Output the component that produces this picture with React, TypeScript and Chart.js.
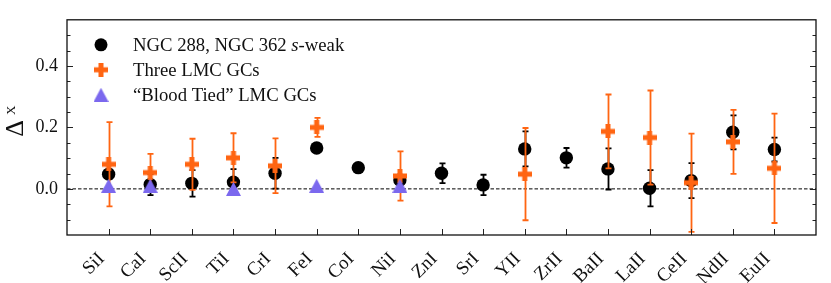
import React, { useEffect, useRef } from 'react';
import { Chart, registerables } from 'chart.js';

Chart.register(...registerables);

// ---------- data ----------
const categories = ['SiI', 'CaI', 'ScII', 'TiI', 'CrI', 'FeI', 'CoI', 'NiI', 'ZnI', 'SrI', 'YII', 'ZrII', 'BaII', 'LaII', 'CeII', 'NdII', 'EuII'];

const weakVals = [0.048, 0.014, 0.018, 0.022, 0.051, 0.133, 0.069, 0.029, 0.051, 0.013, 0.130, 0.101, 0.065, 0.002, 0.027, 0.184, 0.128];
const weakErr = [0.015, 0.034, 0.043, 0.042, 0.050, 0.008, 0.012, 0.015, 0.032, 0.033, 0.057, 0.032, 0.067, 0.059, 0.057, 0.055, 0.039];

const lmcVals = [0.080, 0.053, 0.080, 0.101, 0.075, 0.200, null, 0.042, null, null, 0.048, null, 0.187, 0.167, 0.020, 0.153, 0.067];
const lmcErr = [0.137, 0.061, 0.083, 0.080, 0.089, 0.031, null, 0.080, null, null, 0.150, null, 0.120, 0.153, 0.160, 0.104, 0.178];

const bloodCats = ['SiI', 'CaI', 'TiI', 'FeI', 'NiI'];
const bloodVals = [0.01, 0.01, 0.0, 0.01, 0.01];

const yMajorTicks = [0.0, 0.2, 0.4];
const yMin = -0.15;
const yMax = 0.55;
const yStep = 0.05;

const legendLabels = ['NGC 288, NGC 362 ', '-weak', 'Three LMC GCs', '\u201CBlood Tied\u201D LMC GCs'];

const ORANGE = '#ff6512';
const PURPLE = '#7b68ee';
const FONT = '"Liberation Serif", "Times New Roman", serif';

// ---------- marker images ----------
function makePlus(size: number, arm: number, color: string) {
  const c = document.createElement('canvas');
  c.width = size; c.height = size;
  const g = c.getContext('2d')!;
  g.fillStyle = color;
  const o = (size - arm) / 2;
  g.fillRect(o, 0, arm, size);
  g.fillRect(0, o, size, arm);
  return c;
}
function makeTriangle(w: number, h: number, color: string) {
  const c = document.createElement('canvas');
  c.width = w; c.height = h;
  const g = c.getContext('2d')!;
  g.fillStyle = color;
  g.beginPath();
  g.moveTo(w / 2, 0);
  g.lineTo(w, h);
  g.lineTo(0, h);
  g.closePath();
  g.fill();
  return c;
}

export default function App() {
  const ref = useRef<HTMLCanvasElement | null>(null);

  useEffect(() => {
    if (!ref.current) return;
    const plusImg = makePlus(14, 5, ORANGE);
    const triImg = makeTriangle(15, 14, PURPLE);

    const weakData = weakVals.map((v, i) => ({ x: i, y: v }));
    const lmcData = lmcVals.map((v, i) => ({ x: i, y: v }));
    const bloodData = bloodVals.map((v, i) => ({ x: categories.indexOf(bloodCats[i]), y: v }));

    const errMap: Record<string, { errs: (number | null)[]; color: string }> = {
      weak: { errs: weakErr, color: '#000000' },
      lmc: { errs: lmcErr, color: ORANGE },
    };

    const plugin = {
      id: 'decor',
      beforeDatasetsDraw(chart: any) {
        const { ctx, chartArea } = chart;
        const y0 = chart.scales.y.getPixelForValue(0);
        ctx.save();
        ctx.strokeStyle = '#000';
        ctx.lineWidth = 1;
        ctx.setLineDash([3.5, 2]);
        ctx.beginPath();
        ctx.moveTo(chartArea.left, y0);
        ctx.lineTo(chartArea.right, y0);
        ctx.stroke();
        ctx.restore();
      },
      beforeDatasetDraw(chart: any, args: any) {
        const ds = chart.data.datasets[args.index];
        const e = errMap[ds.key];
        if (!e) return;
        const { ctx } = chart;
        const xs = chart.scales.x, ys = chart.scales.y;
        ctx.save();
        ctx.strokeStyle = e.color;
        ctx.lineWidth = 1.8;
        ds.data.forEach((p: any, i: number) => {
          const err = e.errs[i];
          if (p.y === null || err === null || err === undefined) return;
          const px = Math.round(xs.getPixelForValue(p.x)) + 0.5;
          const top = ys.getPixelForValue(p.y + err);
          const bot = ys.getPixelForValue(p.y - err);
          ctx.beginPath();
          ctx.moveTo(px, top);
          ctx.lineTo(px, bot);
          ctx.moveTo(px - 3, top);
          ctx.lineTo(px + 3, top);
          ctx.moveTo(px - 3, bot);
          ctx.lineTo(px + 3, bot);
          ctx.stroke();
        });
        ctx.restore();
      },
      afterDraw(chart: any) {
        const { ctx, chartArea } = chart;
        const { left, right, top, bottom } = chartArea;
        const xs = chart.scales.x, ys = chart.scales.y;
        ctx.save();
        // ticks
        ctx.strokeStyle = '#222';
        ctx.lineWidth = 1;
        ys.ticks.forEach((t: any) => {
          const v = t.value;
          if (Math.abs(v - yMin) < 1e-6 || Math.abs(v - yMax) < 1e-6) return;
          const major = yMajorTicks.some((m) => Math.abs(m - v) < 1e-6);
          const len = major ? 6 : 3.5;
          const py = Math.round(ys.getPixelForValue(v)) + 0.5;
          ctx.beginPath();
          ctx.moveTo(left, py); ctx.lineTo(left + len, py);
          ctx.moveTo(right, py); ctx.lineTo(right - len, py);
          ctx.stroke();
        });
        xs.ticks.forEach((t: any) => {
          const px = Math.round(xs.getPixelForValue(t.value)) + 0.5;
          ctx.beginPath();
          ctx.moveTo(px, bottom); ctx.lineTo(px, bottom - 6);
          ctx.stroke();
        });
        // frame
        ctx.strokeStyle = '#111';
        ctx.lineWidth = 1.3;
        ctx.strokeRect(left, top, right - left, bottom - top);

        // legend
        const lx = left + 34;
        const rows = [top + 25, top + 50, top + 75];
        ctx.fillStyle = '#000';
        ctx.beginPath();
        ctx.arc(lx, rows[0], 6.5, 0, Math.PI * 2);
        ctx.fill();
        ctx.drawImage(plusImg, lx - 7, rows[1] - 7);
        ctx.drawImage(triImg, lx - 7.5, rows[2] - 7);
        const tx = left + 66;
        const lf = 18.7;
        ctx.textBaseline = 'middle';
        ctx.textAlign = 'left';
        ctx.fillStyle = '#111';
        ctx.font = `${lf}px ${FONT}`;
        ctx.fillText(legendLabels[0], tx, rows[0] + 1);
        let w = ctx.measureText(legendLabels[0]).width;
        ctx.font = `italic ${lf}px ${FONT}`;
        ctx.fillText('s', tx + w, rows[0] + 1);
        w += ctx.measureText('s').width;
        ctx.font = `${lf}px ${FONT}`;
        ctx.fillText(legendLabels[1], tx + w, rows[0] + 1);
        ctx.fillText(legendLabels[2], tx, rows[1] + 1);
        ctx.fillText(legendLabels[3], tx, rows[2] + 1);

        // y title: Delta^X
        ctx.translate(16.5, (top + bottom) / 2 + 1);
        ctx.rotate(-Math.PI / 2);
        ctx.textAlign = 'center';
        ctx.textBaseline = 'middle';
        ctx.font = `26px ${FONT}`;
        ctx.fillText('\u0394', 0, 0);
        ctx.font = `13px ${FONT}`;
        ctx.fillText('X', 18, -4.5);
        ctx.restore();
      },
    };

    const chart = new Chart(ref.current, {
      type: 'scatter',
      data: {
        datasets: [
          {
            key: 'blood',
            label: legendLabels[3],
            data: bloodData,
            pointStyle: triImg,
            pointRadius: 7,
            order: 0,
          } as any,
          {
            key: 'lmc',
            label: legendLabels[2],
            data: lmcData,
            pointStyle: plusImg,
            pointRadius: 7,
            order: 1,
          } as any,
          {
            key: 'weak',
            label: legendLabels[0],
            data: weakData,
            pointStyle: 'circle',
            pointRadius: 6.7,
            backgroundColor: '#000',
            borderWidth: 0,
            order: 2,
          } as any,
        ],
      },
      options: {
        animation: false,
        responsive: false,
        devicePixelRatio: 1,
        layout: { padding: { top: 16, right: 15, left: 0, bottom: 0 } },
        plugins: { legend: { display: false }, tooltip: { enabled: false } },
        scales: {
          x: {
            type: 'linear',
            min: -1,
            max: 17,
            grid: { display: false, drawTicks: false },
            border: { display: false },
            afterBuildTicks: (scale: any) => {
              scale.ticks = categories.map((_, i) => ({ value: i }));
            },
            afterFit: (scale: any) => { scale.height = 48; },
            ticks: {
              autoSkip: false,
              minRotation: 45,
              maxRotation: 45,
              padding: 13,
              labelOffset: -7,
              color: '#111',
              font: { family: FONT, size: 19 },
              callback: (v: any) => categories[v] ?? '',
            },
          },
          y: {
            type: 'linear',
            min: yMin,
            max: yMax,
            grid: { display: false, drawTicks: false },
            border: { display: false },
            afterFit: (scale: any) => { scale.width = 67; },
            ticks: {
              stepSize: yStep,
              autoSkip: false,
              padding: 9,
              color: '#111',
              font: { family: FONT, size: 18 },
              callback: (v: any) => {
                const m = yMajorTicks.find((t) => Math.abs(t - v) < 1e-6);
                return m === undefined ? '' : m.toFixed(1);
              },
            },
          },
        },
      },
      plugins: [plugin],
    });
    return () => chart.destroy();
  }, []);

  return (
    <div style={{ position: 'fixed', left: 0, top: 0, width: 831, height: 283, background: '#fff' }}>
      <canvas ref={ref} width={831} height={283} style={{ display: 'block' }} />
    </div>
  );
}
